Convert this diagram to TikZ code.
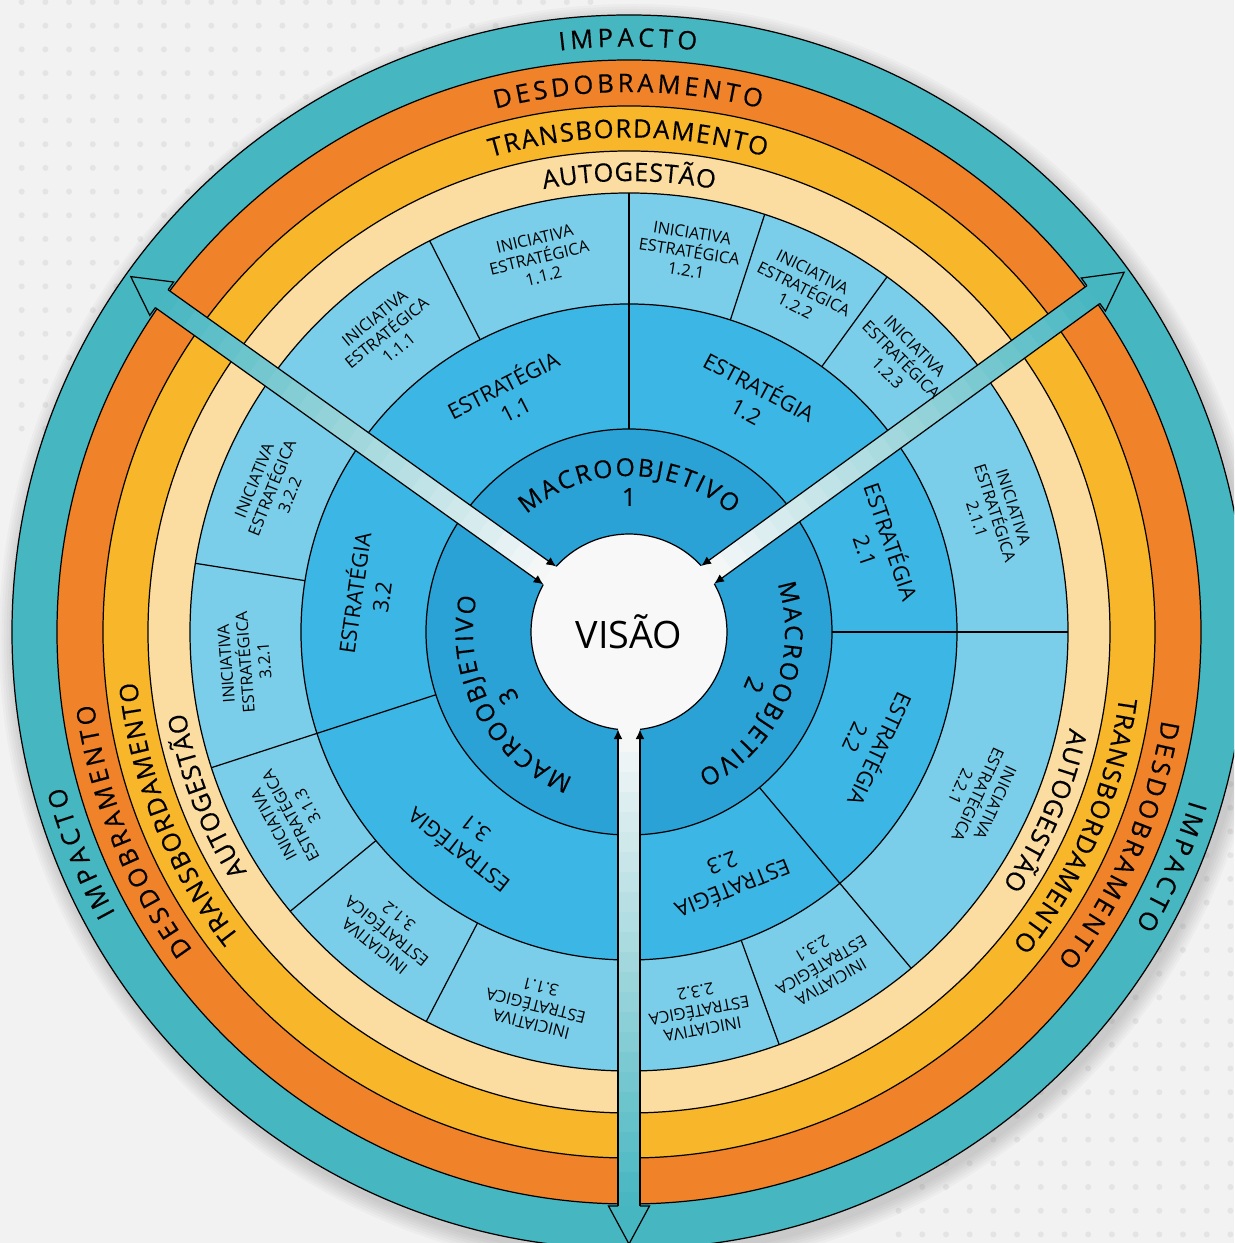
\documentclass[tikz,border=0pt]{standalone}
\usepackage{fontspec}
\setmainfont{Open Sans}
\newfontfamily\labelface[FakeBold=0.4]{Open Sans}
\usetikzlibrary{arrows.meta, decorations.text}

\definecolor{bgcol}{RGB}{242,242,242}
\definecolor{dotcol}{RGB}{228,228,228}
\definecolor{ringteal}{RGB}{70,182,192}
\definecolor{ringorange}{RGB}{240,130,42}
\definecolor{ringyellow}{RGB}{248,183,42}
\definecolor{ringbeige}{RGB}{251,221,162}
\definecolor{inicol}{RGB}{122,206,234}
\definecolor{estcol}{RGB}{60,182,228}
\definecolor{macrocol}{RGB}{42,162,214}
\definecolor{visaocol}{RGB}{248,248,248}

\newcommand{\ringfont}{\labelface\fontsize{14.5}{16}\selectfont}
\newcommand{\macrofont}{\labelface\fontsize{14}{16}\selectfont}
\newcommand{\estfont}{\fontsize{12.4}{15.5}\selectfont}
\newcommand{\inifont}{\fontsize{9.3}{10.9}\selectfont}

\begin{document}
\begin{tikzpicture}[x=0.02cm, y=0.02cm,
    ring/.style={draw=black, line width=0.7pt},
    divider/.style={black, line width=0.7pt},
    edge/.style={black, line width=0.7pt},
    ringtext/.style={decorate, decoration={text along path, text align={fit to path}, text={|\ringfont|#1}}},
    macrotext/.style={decorate, decoration={text along path, text align={fit to path}, text={|\macrofont|#1}}},
    estbox/.style={align=center, font=\estfont, inner sep=0pt},
    inibox/.style={align=center, font=\inifont, inner sep=0pt}]
    \useasboundingbox (-629,-611) rectangle (605,632);
    \clip (-629,-611) rectangle (605,632);
    \fill[bgcol] (-629,-611) rectangle (605,632);
    \foreach \i in {0,...,24}
        \foreach \j in {0,...,18}
            \fill[dotcol] (23.7*\i-607.3, 630-23.7*\j) circle (3);
    \foreach \i in {37,...,51}
        \foreach \j in {29,...,52}
            \fill[dotcol] (23.7*\i-607.3, 630-23.7*\j) circle (3);
    \foreach \s in {0,...,6}
        \fill[black, opacity=0.025] (4,-6) circle (619+2.5*\s);

    \filldraw[ring, fill=ringteal] (0,0) circle (617);
    \filldraw[ring, fill=ringorange] (0,0) circle (572);
    \filldraw[ring, fill=ringyellow] (0,0) circle (526);
    \filldraw[ring, fill=ringbeige] (0,0) circle (481);
    \filldraw[ring, fill=inicol] (0,0) circle (439);
    \filldraw[ring, fill=estcol] (0,0) circle (328);
    \filldraw[ring, fill=macrocol] (0,0) circle (203);

    \foreach \a/\r in {90/203, 0/203, -50/203, 198/203, 117/328, 72/328, 54/328,
                       -70/328, 171/328, 219.5/328, 242.5/328}
        \draw[divider] (\a:\r) -- (\a:439);

    \node[circle, draw=black, line width=0.7pt, fill=visaocol, minimum size=3.92cm,
          inner sep=0pt, font=\fontsize{21.5}{24}\selectfont] (visao) at (0,0) {VISÃO};

    \foreach \a in {144.5,36,270}{
        \begin{scope}[rotate=\a]
            \foreach \r in {80,100,...,560}{
                \pgfmathtruncatemacro\p{max(0,min(100,(\r+10-98)/4.74))}
                \fill[ringteal!\p!visaocol] (\r,-11) rectangle (\r+21,11);
            }
            \fill[ringteal] (574,20.5) -- (612,0) -- (574,-20.5) -- cycle;
            \draw[edge, line join=miter] (574,11) -- (574,20.5) -- (612,0) -- (574,-20.5) -- (574,-11);
            \draw[edge, -{Latex[length=5.5pt,width=5pt]}] (574,11) -- (97.4,11);
            \draw[edge, -{Latex[length=5.5pt,width=5pt]}] (574,-11) -- (97.4,-11);
        \end{scope}
    }

    \path[ringtext=IMPACTO] (96.8:585.5) arc[start angle=96.8, end angle=83.4, radius=585.5];
    \path[ringtext=DESDOBRAMENTO] (104.3:540) arc[start angle=104.3, end angle=75.9, radius=540];
    \path[ringtext=TRANSBORDAMENTO] (106.2:494.5) arc[start angle=106.2, end angle=74, radius=494.5];
    \path[ringtext=AUTOGESTÃO] (100.9:451) arc[start angle=100.9, end angle=79.1, radius=451];

    \path[ringtext=IMPACTO] (208.7:585.5) arc[start angle=208.7, end angle=195.3, radius=585.5];
    \path[ringtext=DESDOBRAMENTO] (216.1:540) arc[start angle=216.1, end angle=187.7, radius=540];
    \path[ringtext=TRANSBORDAMENTO] (218:494.5) arc[start angle=218, end angle=185.8, radius=494.5];
    \path[ringtext=AUTOGESTÃO] (212.1:451) arc[start angle=212.1, end angle=190.3, radius=451];

    \path[ringtext=IMPACTO] (-16.7:585.5) arc[start angle=-16.7, end angle=-30.1, radius=585.5];
    \path[ringtext=DESDOBRAMENTO] (-9.4:540) arc[start angle=-9.4, end angle=-37.5, radius=540];
    \path[ringtext=TRANSBORDAMENTO] (-7.6:494.5) arc[start angle=-7.6, end angle=-39.2, radius=494.5];
    \path[ringtext=AUTOGESTÃO] (-12.3:451) arc[start angle=-12.3, end angle=-34.1, radius=451];

    \path[macrotext=MACROOBJETIVO] (131:156) arc[start angle=131, end angle=49, radius=156];
    \path[macrotext=MACROOBJETIVO] (18:156) arc[start angle=18, end angle=-64, radius=156];
    \path[macrotext=MACROOBJETIVO] (249:156) arc[start angle=249, end angle=167, radius=156];
    \node[font=\macrofont] (macro1) at (90:135) {1};
    \node[font=\macrofont, rotate=-113] (macro2) at (-23:136) {2};
    \node[font=\macrofont, rotate=118] (macro3) at (208:137) {3};

    \foreach \a/\t [count=\i] in {117/1.1, 62/1.2, 19/2.1, -25/2.2, -68/2.3, 232/3.1, 172/3.2}
        \node[estbox, rotate=\a-90] (est\i) at (\a:265) {ESTRATÉGIA\\\t};

    \foreach \a/\t [count=\i] in {129/1.1.1, 103.5/1.1.2, 81/1.2.1, 63/1.2.2, 45/1.2.3,
                                  18/2.1.1, -25/2.2.1, -60/2.3.1, -79.5/2.3.2, 256/3.1.1,
                                  231/3.1.2, 208.5/3.1.3, 184.5/3.2.1, 158/3.2.2}
        \node[inibox, rotate=\a-90] (ini\i) at (\a:385) {INICIATIVA\\ESTRATÉGICA\\\t};
\end{tikzpicture}
\end{document}
